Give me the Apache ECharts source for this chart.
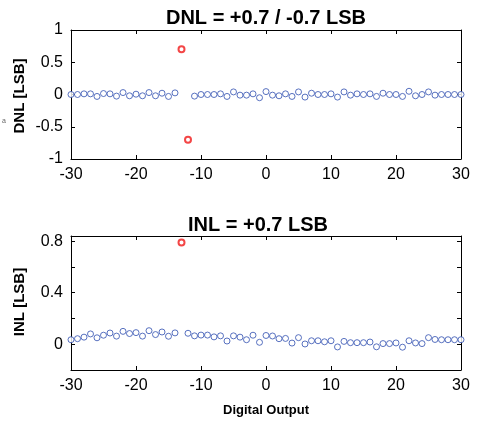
<!DOCTYPE html>
<html>
<head>
<meta charset="utf-8">
<script src="https://cdn.jsdelivr.net/npm/echarts@6/dist/echarts.min.js"></script>
<style>
html,body{margin:0;padding:0;background:#fff;}
#c{width:478px;height:421px;}
</style>
</head>
<body>
<div id="c"></div>
<script>
// ---- data ----
const codes = [-30,-29,-28,-27,-26,-25,-24,-23,-22,-21,-20,-19,-18,-17,-16,-15,-14,-13,-12,-11,-10,-9,-8,-7,-6,-5,-4,-3,-2,-1,0,1,2,3,4,5,6,7,8,9,10,11,12,13,14,15,16,17,18,19,20,21,22,23,24,25,26,27,28,29,30];
const dnlBlue = [0,0,0.01,0.01,-0.03,0.015,0.01,-0.025,0.03,-0.02,0.005,-0.02,0.03,-0.02,0.02,-0.03,0.025,null,null,-0.025,0,0,0,0.01,-0.03,0.04,-0.01,-0.01,0.01,-0.05,0.045,-0.01,-0.02,0.01,-0.03,0.04,-0.04,0.02,0,0,0.01,-0.04,0.04,-0.01,0.01,0,0.01,-0.03,0.02,0,0,-0.03,0.05,-0.02,0,0.04,-0.01,0,0,0,0];
const dnlRedCodes = [-13,-12];
const dnlRed = [0.7,-0.7];
const inlBlue = [0.035,0.043,0.055,0.08,0.05,0.07,0.087,0.063,0.1,0.083,0.09,0.063,0.105,0.075,0.095,0.062,0.088,null,0.085,0.065,0.071,0.071,0.057,0.065,0.025,0.065,0.055,0.035,0.07,0.015,0.068,0.064,0.043,0.045,0.009,0.051,0.002,0.027,0.027,0.019,0.027,-0.021,0.022,0.012,0.012,0.012,0.017,-0.02,0.005,0.005,0.01,-0.023,0.027,0.01,0.005,0.051,0.037,0.035,0.035,0.035,0.035];
const inlRedCodes = [-13];
const inlRed = [0.79];
const xTicks = {min:-30, max:30, interval:10};
const dnlTicks = {min:-1, max:1, interval:0.5};
const inlTicks = {min:-0.2, max:0.84, interval:0.2};
const inlShownLabels = [0, 0.4, 0.8];
const titleDNL = 'DNL = +0.7 / -0.7 LSB';
const titleINL = 'INL = +0.7 LSB';
const yNameDNL = 'DNL [LSB]';
const yNameINL = 'INL [LSB]';
const xName = 'Digital Output';

// ---- build ----
const FONT = '"Liberation Sans", Arial, Helvetica, sans-serif';
const BLUE = '#2f4fb0';
const RED = '#f01818';
function pairs(xs, ys){ const out=[]; for(let i=0;i<xs.length;i++){ if(ys[i]!==null) out.push([xs[i], ys[i]]);} return out; }

const grids = [
  {left:71, right:17, top:30, height:129},
  {left:71, right:17, top:236, height:134}
];
function xAx(g, pos, labels){
  return {type:'value', gridIndex:g, position:pos, min:xTicks.min, max:xTicks.max, interval:xTicks.interval,
    axisLine:{show:true, onZero:false, lineStyle:{color:'#000', width:1}},
    axisTick:{show:true, inside:true, length:4, lineStyle:{color:'#000'}},
    axisLabel:{show:labels, color:'#000', fontSize:16, fontFamily:FONT, margin:8},
    splitLine:{show:false}};
}
function yAx(g, pos, labels, t, fmt){
  return {type:'value', gridIndex:g, position:pos, min:t.min, max:t.max, interval:t.interval,
    axisLine:{show:true, onZero:false, lineStyle:{color:'#000', width:1}},
    axisTick:{show:true, inside:true, length:4, lineStyle:{color:'#000'}},
    axisLabel:{show:labels, color:'#000', fontSize:16, fontFamily:FONT, margin:8, formatter:fmt, showMinLabel:true, showMaxLabel:true},
    splitLine:{show:false}};
}
const inlFmt = v => inlShownLabels.some(s => Math.abs(s - v) < 1e-6) ? String(Math.round(v*10)/10) : '';

const blueStyle = {color:'#fff', borderColor:BLUE, borderWidth:1};
const redStyle = {color:'#fff', borderColor:RED, borderWidth:2};

const option = {
  backgroundColor:'#fff',
  animation:false,
  grid: grids,
  xAxis:[ xAx(0,'bottom',true), xAx(0,'top',false), xAx(1,'bottom',true), xAx(1,'top',false) ],
  yAxis:[ yAx(0,'left',true,dnlTicks), yAx(0,'right',false,dnlTicks), yAx(1,'left',true,inlTicks,inlFmt), yAx(1,'right',false,inlTicks,()=>'') ],
  graphic:[
    {type:'text', x:266, y:18, style:{text:titleDNL, fill:'#000', font:'bold 20px '+FONT, align:'center', verticalAlign:'middle'}},
    {type:'text', x:258, y:225, style:{text:titleINL, fill:'#000', font:'bold 20px '+FONT, align:'center', verticalAlign:'middle'}},
    {type:'text', x:20, y:96, rotation:Math.PI/2, style:{text:yNameDNL, fill:'#000', font:'bold 15px '+FONT, align:'center', verticalAlign:'middle'}},
    {type:'text', x:20, y:302, rotation:Math.PI/2, style:{text:yNameINL, fill:'#000', font:'bold 15px '+FONT, align:'center', verticalAlign:'middle'}},
    {type:'text', x:266, y:410, style:{text:xName, fill:'#000', font:'bold 13px '+FONT, align:'center', verticalAlign:'middle'}},
    {type:'text', x:4, y:121, style:{text:'a', fill:'#666', font:'7px '+FONT, align:'center', verticalAlign:'middle'}}
  ],
  series:[
    {type:'scatter', xAxisIndex:0, yAxisIndex:0, data:pairs(codes,dnlBlue), symbol:'circle', symbolSize:6, itemStyle:blueStyle},
    {type:'scatter', xAxisIndex:0, yAxisIndex:0, data:pairs(dnlRedCodes,dnlRed), symbol:'circle', symbolSize:6, itemStyle:redStyle},
    {type:'scatter', xAxisIndex:2, yAxisIndex:2, data:pairs(codes,inlBlue), symbol:'circle', symbolSize:6, itemStyle:blueStyle},
    {type:'scatter', xAxisIndex:2, yAxisIndex:2, data:pairs(inlRedCodes,inlRed), symbol:'circle', symbolSize:6, itemStyle:redStyle}
  ]
};
const chart = echarts.init(document.getElementById('c'), null, {renderer:'canvas'});
chart.setOption(option);
</script>
</body>
</html>
